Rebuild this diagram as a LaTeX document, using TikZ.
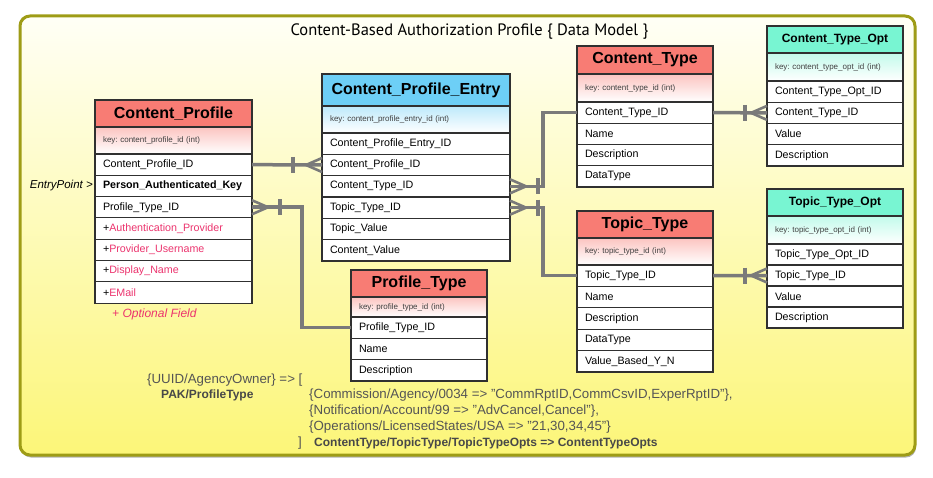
\documentclass[tikz,border=0pt]{standalone}
\usepackage{fontspec}
\setmainfont{Liberation Sans}
\newfontfamily\titlefont{PT Sans}
\usetikzlibrary{shadows,calc}
\frenchspacing
\definecolor{frameline}{RGB}{158,156,22}
\definecolor{frametop}{RGB}{255,255,246}
\definecolor{framebot}{RGB}{252,246,120}
\definecolor{hdrred}{RGB}{248,124,116}
\definecolor{hdrblue}{RGB}{109,207,246}
\definecolor{hdrteal}{RGB}{120,245,210}
\definecolor{tabline}{RGB}{48,48,48}
\definecolor{conngray}{RGB}{122,122,122}
\definecolor{optpink}{RGB}{236,52,110}
\definecolor{btextgray}{RGB}{85,85,85}
\newcommand\optf[1]{\textcolor{optpink}{#1}}
\newcommand\ertable[9]{%
  \pgfmathsetmacro\erkw{#3-#2-16}%
  \node[hdr, fill=#7, minimum width={#3-#2}, minimum height={#5-#4}] (#1-h) at ({(#2+#3)/2},{(#4+#5)/2}) {#8};
  \node[keyrow, top color=#7!45!white, minimum width={#3-#2}, minimum height={#6-#5}, text width=\erkw pt] (#1-k) at ({(#2+#3)/2},{(#5+#6)/2}) {\raisebox{-1.5pt}{#9}};
}
\newcommand\errows[6]{%
  \pgfmathsetmacro\errw{#3-#2-16}%
  \foreach \rowtext [count=\i] in {#6} {
    \node[rowbox, minimum width={#3-#2}, minimum height=#5, text width=\errw pt] (#1-\i) at ({(#2+#3)/2},{#4+(\i-0.5)*#5}) {\rowtext};
  }
}
\newcommand\crow[3]{%
  \draw[conn, line width=2.6pt] ([xshift=#2*16pt]#1) -- ([yshift=7pt]#1) ([xshift=#2*16pt]#1) -- ([yshift=-7pt]#1);
  \draw[conn] ([xshift=#2*#3pt, yshift=8pt]#1) -- ([xshift=#2*#3pt, yshift=-8pt]#1);
}
\begin{document}
\begin{tikzpicture}[x=1pt,y=-1pt,
  frame/.style={draw=frameline, line width=3pt, rounded corners=10pt, top color=frametop, bottom color=framebot,
    drop shadow={shadow xshift=1pt, shadow yshift=-2.5pt, opacity=0.3, fill=black}},
  hdr/.style={draw=tabline, line width=1.2pt, inner sep=0pt, outer sep=0pt, font=\bfseries\fontsize{16}{18}\selectfont},
  keyrow/.style={draw=tabline, line width=1.2pt, bottom color=white, inner xsep=8pt, inner ysep=0pt, outer sep=0pt,
    align=left, font=\fontsize{8}{9}\selectfont, text=black!75},
  rowbox/.style={draw=tabline, line width=1.2pt, fill=white, inner xsep=8pt, inner ysep=0pt, outer sep=0pt,
    align=left, font=\fontsize{10.7}{12}\selectfont},
  conn/.style={draw=conngray, line width=3.5pt},
  btext/.style={inner sep=0pt, text=btextgray, font=\fontsize{13.3}{15}\selectfont},
  btextb/.style={inner sep=0pt, text=btextgray!85!black, font=\bfseries\fontsize{12}{14}\selectfont}
]
\useasboundingbox (0,0) rectangle (933,478);
\path[frame] (20,16) rectangle (915,455);
\node[inner sep=0pt, font=\titlefont\fontsize{16.5}{18}\selectfont] (title) at (469.5,32) {Content-Based Authorization Profile \{ Data Model \}};

% tables
\ertable{cp}{95}{252}{100}{127}{154}{hdrred}{Content\_Profile}{key: content\_profile\_id (int)}
\errows{cp}{95}{252}{154}{21.3}{Content\_Profile\_ID, \textbf{Person\_Authenticated\_Key}, Profile\_Type\_ID, +\optf{Authentication\_Provider}, +\optf{Provider\_Username}, +\optf{Display\_Name}, +\optf{EMail}}

\ertable{cpe}{322}{510}{74}{106}{133}{hdrblue}{Content\_Profile\_Entry}{key: content\_profile\_entry\_id (int)}
\errows{cpe}{322}{510}{133}{21.33}{Content\_Profile\_Entry\_ID, Content\_Profile\_ID, Content\_Type\_ID, Topic\_Type\_ID, Topic\_Value, Content\_Value}

\ertable{pt}{351}{487}{270}{297}{317}{hdrred}{Profile\_Type}{key: profile\_type\_id (int)}
\errows{pt}{351}{487}{317}{21.3}{Profile\_Type\_ID, Name, Description}

\ertable{ct}{577}{713}{46}{74}{102}{hdrred}{Content\_Type}{key: content\_type\_id (int)}
\errows{ct}{577}{713}{102}{21.25}{Content\_Type\_ID, Name, Description, DataType}

\ertable{cto}{767}{903}{26}{53}{81}{hdrteal}{\fontsize{12}{14}\selectfont Content\_Type\_Opt}{key: content\_type\_opt\_id (int)}
\errows{cto}{767}{903}{81}{21.25}{Content\_Type\_Opt\_ID, Content\_Type\_ID, Value, Description}

\ertable{tt}{577}{713}{211}{238}{265}{hdrred}{Topic\_Type}{key: topic\_type\_id (int)}
\errows{tt}{577}{713}{265}{21.4}{Topic\_Type\_ID, Name, Description, DataType, Value\_Based\_Y\_N}

\ertable{tto}{767}{903}{189}{216}{244}{hdrteal}{\fontsize{12}{14}\selectfont Topic\_Type\_Opt}{key: topic\_type\_opt\_id (int)}
\errows{tto}{767}{903}{244}{21}{Topic\_Type\_Opt\_ID, Topic\_Type\_ID, Value, Description}

% connectors
\draw[conn] (cp-1.east) -- (cpe-2.west);
\crow{cpe-2.west}{-1}{29}
\draw[conn] (cp-3.east) -- ++(50,0) |- (pt-1.west);
\crow{cp-3.east}{1}{28}
\draw[conn] (cpe-3.east) -- ++(33,0) |- (ct-1.west);
\crow{cpe-3.east}{1}{28}
\draw[conn] (cpe-4.east) -- ++(33,0) |- (tt-1.west);
\crow{cpe-4.east}{1}{28}
\draw[conn] (ct-1.east) -- (cto-2.west);
\crow{cto-2.west}{-1}{22}
\draw[conn] (tt-1.east) -- (tto-2.west);
\crow{tto-2.west}{-1}{22}

% labels
\node[inner sep=0pt, anchor=east, font=\itshape\fontsize{11.5}{13}\selectfont] (entry) at (93,186) {EntryPoint >};
\node[inner sep=0pt, anchor=base west, text=optpink, font=\itshape\fontsize{12}{14}\selectfont] (optfield) at (112,317.5) {+ Optional Field};

\node[btext, anchor=base west] (uuid) at (147,383.5) {\{UUID/AgencyOwner\} => [};
\node[btextb, anchor=base west] (pak) at (161,398.5) {PAK/ProfileType};
\node[btext, anchor=base west] (comm) at (309,398.5) {\{Commission/Agency/0034 => "CommRptID,CommCsvID,ExperRptID"\},};
\node[btext, anchor=base west] (notif) at (309,414.5) {\{Notification/Account/99 => "AdvCancel,Cancel"\},};
\node[btext, anchor=base west] (ops) at (309,430.5) {\{Operations/LicensedStates/USA => "21,30,34,45"\}};
\node[btext, anchor=base west] (close) at (298,446.5) {]};
\node[btextb, anchor=base west] (ctopts) at (314,446.5) {ContentType/TopicType/TopicTypeOpts => ContentTypeOpts};
\end{tikzpicture}
\end{document}
